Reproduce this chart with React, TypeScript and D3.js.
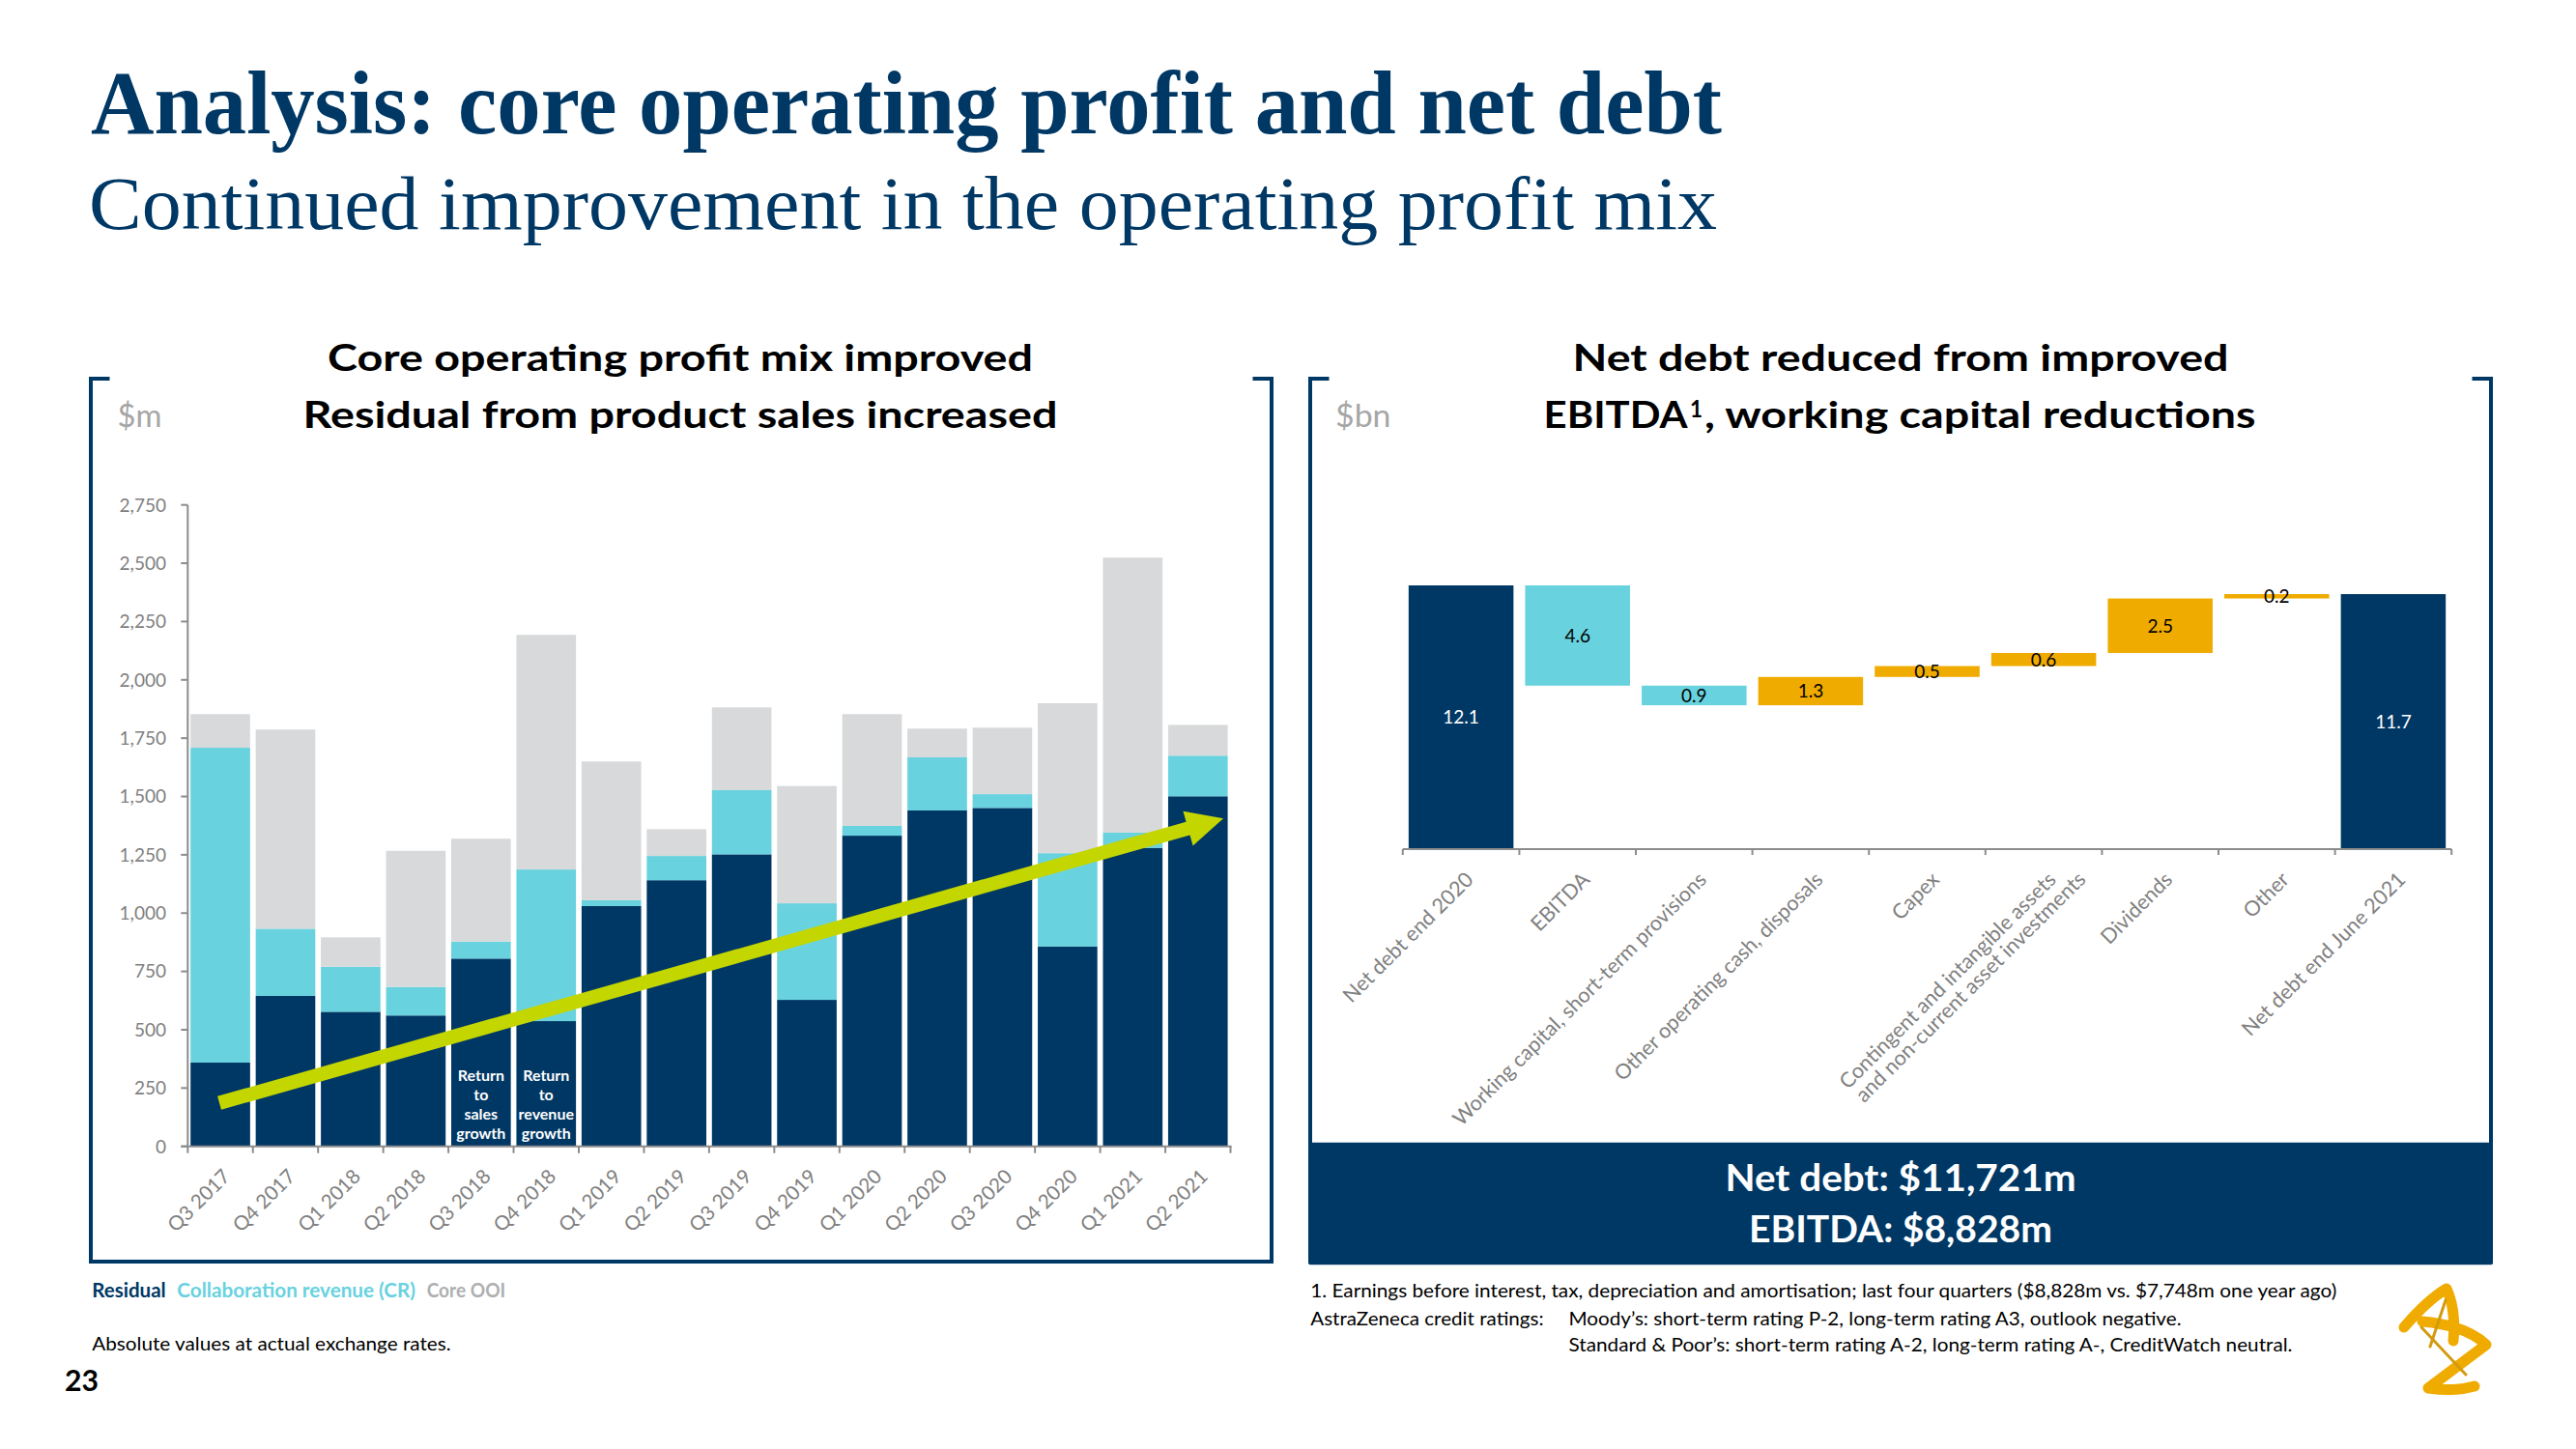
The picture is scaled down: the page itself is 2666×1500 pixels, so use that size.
import React from "react";
import * as d3 from "d3";

// ---------------- data ----------------
const quarters = [
  "Q3 2017", "Q4 2017", "Q1 2018", "Q2 2018", "Q3 2018", "Q4 2018",
  "Q1 2019", "Q2 2019", "Q3 2019", "Q4 2019", "Q1 2020", "Q2 2020",
  "Q3 2020", "Q4 2020", "Q1 2021", "Q2 2021",
];
const residual = [359, 645, 577, 561, 805, 537, 1030, 1141, 1252, 628, 1332, 1440, 1451, 857, 1280, 1501];
const collaborationRevenue = [1350, 288, 193, 122, 73, 650, 25, 104, 275, 414, 42, 228, 59, 400, 65, 174];
const coreOOI = [144, 854, 126, 584, 441, 1006, 595, 115, 355, 503, 479, 123, 285, 643, 1179, 132];
const seriesKeys = ["residual", "collaboration", "coreOOI"];
const seriesLabels = ["Residual", "Collaboration revenue (CR)", "Core OOI"];
const yTicksLeft = [0, 250, 500, 750, 1000, 1250, 1500, 1750, 2000, 2250, 2500, 2750];
const annotationQuarters = ["Q3 2018", "Q4 2018"];
const annotationLines = [
  ["Return", "to", "sales", "growth"],
  ["Return", "to", "revenue", "growth"],
];
const arrowQuarters = ["Q3 2017", "Q2 2021"];
const arrowValues = [186, 1406];

const bridgeSteps = [
  "Net debt end 2020",
  "EBITDA",
  "Working capital, short-term provisions",
  "Other operating cash, disposals",
  "Capex",
  "Contingent and intangible assets\nand non-current asset investments",
  "Dividends",
  "Other",
  "Net debt end June 2021",
];
const bridgeValues = [12.1, -4.6, -0.9, 1.3, 0.5, 0.6, 2.5, 0.2, 11.7];
const bridgeTypes = ["total", "decrease", "decrease", "increase", "increase", "increase", "increase", "increase", "total"];

// ---------------- styles ----------------
const NAVY = "#003865";
const CYAN = "#68d2df";
const GREY_BAR = "#d7d9da";
const GOLD = "#f0ab00";
const LIME = "#c4d600";
const AXIS = "#8c8c8c";
const TICK_TEXT = "#808080";
const SANS = "Lato, 'Open Sans', sans-serif";
const SERIF = "'Liberation Serif', 'DejaVu Serif', serif";
const seriesColors = [NAVY, CYAN, GREY_BAR];
const legendColors = [NAVY, CYAN, "#aeb0b1"];

export default function App() {
  // ---------- left chart ----------
  const L = { x0: 194.3, x1: 1273.5, yBase: 1186.7, yTop: 522.7 };
  const xL = d3.scaleBand<string>().domain(quarters).range([L.x0, L.x1]).paddingInner(0.086).paddingOuter(0.043);
  const yL = d3.scaleLinear().domain([0, 2750]).range([L.yBase, L.yTop]);
  const stackInput = quarters.map((q, i) => ({
    quarter: q,
    residual: residual[i],
    collaboration: collaborationRevenue[i],
    coreOOI: coreOOI[i],
  }));
  const stacked = d3.stack<any>().keys(seriesKeys)(stackInput);
  const bwL = xL.bandwidth();
  const stepL = xL.step();

  // arrow geometry
  const p0: [number, number] = [(xL(arrowQuarters[0]) as number) + bwL / 2 - 1, yL(arrowValues[0])];
  const tip: [number, number] = [(xL(arrowQuarters[1]) as number) + bwL / 2 + 0.39 * stepL, yL(arrowValues[1])];
  const dx = tip[0] - p0[0];
  const dy = tip[1] - p0[1];
  const len = Math.hypot(dx, dy);
  const u = [dx / len, dy / len];
  const n = [-u[1], u[0]];
  const headLen = 38;
  const headHalf = 18.5;
  const shaftHalf = 7.2;
  const base = [tip[0] - u[0] * headLen, tip[1] - u[1] * headLen];
  const pt = (p: number[], k: number) => `${p[0] + n[0] * k},${p[1] + n[1] * k}`;
  const arrowPoints = [
    pt(p0, shaftHalf),
    pt(base, shaftHalf),
    pt(base, headHalf),
    `${tip[0]},${tip[1]}`,
    pt(base, -headHalf),
    pt(base, -shaftHalf),
    pt(p0, -shaftHalf),
  ].join(" ");

  // ---------- right chart ----------
  const R = { x0: 1451.8, x1: 2537.2, yBase: 879, yTop: 606 };
  const xR = d3.scaleBand<string>().domain(bridgeSteps).range([R.x0, R.x1]).paddingInner(0.1).paddingOuter(0.05);
  const yR = d3.scaleLinear().domain([0, 12.1]).range([R.yBase, R.yTop]);
  let running = 0;
  const bridgeBars = bridgeSteps.map((s, i) => {
    let a: number, b: number;
    if (bridgeTypes[i] === "total") {
      a = 0;
      b = bridgeValues[i];
      running = bridgeValues[i];
    } else {
      a = running;
      b = running + bridgeValues[i];
      running = b;
    }
    return {
      step: s,
      lo: Math.min(a, b),
      hi: Math.max(a, b),
      type: bridgeTypes[i],
      label: Math.abs(bridgeValues[i]).toFixed(1),
    };
  });
  const bwR = xR.bandwidth();
  const stepR = xR.step();

  const frameStroke = 4;
  const legendX = [95.2, 183.3, 441.7];
  const legendW = [76.5, 246.7, 81.6];

  return (
    <svg
      width={2666}
      height={1500}
      viewBox="0 0 2666 1500"
      style={{ position: "absolute", left: 0, top: 0, display: "block", background: "#ffffff" }}
    >
      <rect x={0} y={0} width={2666} height={1500} fill="#ffffff" />

      {/* Titles */}
      <text x={94} y={138} fontFamily={SERIF} fontWeight={700} fontSize={93} fill={NAVY}
        textLength={1688} lengthAdjust="spacingAndGlyphs">
        Analysis: core operating profit and net debt
      </text>
      <text x={92} y={236.5} fontFamily={SERIF} fontWeight={400} fontSize={78} fill={NAVY}
        textLength={1685} lengthAdjust="spacingAndGlyphs">
        Continued improvement in the operating profit mix
      </text>

      {/* ---------- Left panel frame ---------- */}
      <path d={`M113.5,392 H94 V1306 H1316 V392 H1296.5`} fill="none" stroke={NAVY} strokeWidth={frameStroke} />
      <text x={704} y={384} textAnchor="middle" fontFamily={SANS} fontWeight={700} fontSize={38} fill="#000"
        textLength={730} lengthAdjust="spacingAndGlyphs">
        Core operating profit mix improved
      </text>
      <text x={704} y={443.3} textAnchor="middle" fontFamily={SANS} fontWeight={700} fontSize={38} fill="#000"
        textLength={781} lengthAdjust="spacingAndGlyphs">
        Residual from product sales increased
      </text>
      <text x={121.5} y={441.7} fontFamily={SANS} fontSize={32} fill="#a6a6a6" textLength={46} lengthAdjust="spacingAndGlyphs">
        $m
      </text>

      {/* stacked bars */}
      <g>
        {stacked.map((layer, si) => (
          <g key={seriesKeys[si]} fill={seriesColors[si]}>
            {layer.map((d: any, i: number) => (
              <rect
                key={i}
                x={xL(d.data.quarter) as number}
                y={yL(d[1])}
                width={bwL}
                height={Math.max(0, yL(d[0]) - yL(d[1]))}
              />
            ))}
          </g>
        ))}
      </g>

      {/* annotations */}
      {annotationQuarters.map((q, ai) => (
        <text key={q} textAnchor="middle" fontFamily={SANS} fontWeight={700} fontSize={16} fill="#ffffff">
          {annotationLines[ai].map((ln, li) => (
            <tspan key={li} x={(xL(q) as number) + bwL / 2}
              y={L.yBase - 7.5 - (annotationLines[ai].length - 1 - li) * 20}>
              {ln}
            </tspan>
          ))}
        </text>
      ))}

      {/* trend arrow */}
      <polygon points={arrowPoints} fill={LIME} />

      {/* left axes */}
      <g stroke={AXIS} strokeWidth={2} fill="none">
        <line x1={L.x0} y1={L.yBase} x2={L.x0} y2={L.yTop} />
        <line x1={L.x0 - 7} y1={L.yBase} x2={L.x1 + 1} y2={L.yBase} />
        {yTicksLeft.map((t) => (
          <line key={t} x1={L.x0 - 7} x2={L.x0} y1={yL(t)} y2={yL(t)} />
        ))}
        {d3.range(quarters.length + 1).map((i) => (
          <line key={i} x1={L.x0 + i * stepL} x2={L.x0 + i * stepL} y1={L.yBase} y2={L.yBase + 7} />
        ))}
      </g>
      {yTicksLeft.map((t) => (
        <text key={t} x={172} y={yL(t)} dy="0.36em" textAnchor="end" fontFamily={SANS} fontSize={19} fill={TICK_TEXT}>
          {d3.format(",")(t)}
        </text>
      ))}
      {quarters.map((q) => (
        <text
          key={q}
          transform={`translate(${(xL(q) as number) + bwL / 2 + 1},${L.yBase + 22}) rotate(-45)`}
          dy="0.72em"
          textAnchor="end"
          fontFamily={SANS}
          fontSize={20.5}
          fill={TICK_TEXT}
        >
          {q}
        </text>
      ))}

      {/* legend + notes left */}
      {seriesLabels.map((s, i) => (
        <text key={s} x={legendX[i]} y={1343.3} fontFamily={SANS} fontWeight={700} fontSize={20} fill={legendColors[i]}
          textLength={legendW[i]} lengthAdjust="spacingAndGlyphs">{s}</text>
      ))}
      <text x={95.2} y={1398.3} fontFamily={SANS} fontSize={20} fill="#000"
        textLength={371.5} lengthAdjust="spacingAndGlyphs">Absolute values at actual exchange rates.</text>
      <text x={66.9} y={1440} fontFamily={SANS} fontWeight={700} fontSize={30} fill="#000"
        textLength={35} lengthAdjust="spacingAndGlyphs">23</text>

      {/* ---------- Right panel ---------- */}
      <path d={`M1375.5,392 H1356 V1184`} fill="none" stroke={NAVY} strokeWidth={frameStroke} />
      <path d={`M2558.5,392 H2578 V1184`} fill="none" stroke={NAVY} strokeWidth={frameStroke} />
      <rect x={1354} y={1182.7} width={1226} height={126.6} fill={NAVY} rx={2} />
      <text x={1967} y={384} textAnchor="middle" fontFamily={SANS} fontWeight={700} fontSize={38} fill="#000"
        textLength={679} lengthAdjust="spacingAndGlyphs">
        Net debt reduced from improved
      </text>
      <text x={1597.6} y={443.3} fontFamily={SANS} fontWeight={700} fontSize={38} fill="#000"
        textLength={149} lengthAdjust="spacingAndGlyphs">EBITDA</text>
      <text x={1749} y={432} fontFamily={SANS} fontWeight={700} fontSize={24} fill="#000"
        textLength={13} lengthAdjust="spacingAndGlyphs">1</text>
      <text x={1764} y={443.3} fontFamily={SANS} fontWeight={700} fontSize={38} fill="#000"
        textLength={570.6} lengthAdjust="spacingAndGlyphs">, working capital reductions</text>
      <text x={1382} y={441.7} fontFamily={SANS} fontSize={32} fill="#a6a6a6" textLength={57.5} lengthAdjust="spacingAndGlyphs">
        $bn
      </text>

      {/* waterfall bars */}
      {bridgeBars.map((b) => (
        <rect
          key={b.step}
          x={xR(b.step) as number}
          y={yR(b.hi)}
          width={bwR}
          height={Math.max(0, yR(b.lo) - yR(b.hi))}
          fill={b.type === "total" ? NAVY : b.type === "decrease" ? CYAN : GOLD}
        />
      ))}
      {bridgeBars.map((b) => (
        <text
          key={b.step}
          x={(xR(b.step) as number) + bwR / 2}
          y={(yR(b.hi) + yR(b.lo)) / 2}
          dy="0.36em"
          textAnchor="middle"
          fontFamily={SANS}
          fontSize={19}
          fill={b.type === "total" ? "#ffffff" : "#000000"}
        >
          {b.label}
        </text>
      ))}
      <g stroke={AXIS} strokeWidth={2} fill="none">
        <line x1={R.x0} x2={R.x1} y1={R.yBase} y2={R.yBase} />
        {d3.range(bridgeSteps.length + 1).map((i) => (
          <line key={i} x1={R.x0 + i * stepR} x2={R.x0 + i * stepR} y1={R.yBase} y2={R.yBase + 6} />
        ))}
      </g>
      {bridgeSteps.map((s) => {
        const lines = s.split("\n");
        return (
          <text
            key={s}
            transform={`translate(${(xR(s) as number) + bwR / 2 + 3},${R.yBase + 22}) rotate(-45)`}
            textAnchor="end"
            fontFamily={SANS}
            fontSize={21.5}
            fill={TICK_TEXT}
          >
            {lines.map((ln, li) => (
              <tspan key={li} x={li * 22} y={0} dy={`${0.72 + li * 1.0}em`}>
                {ln}
              </tspan>
            ))}
          </text>
        );
      })}

      {/* navy summary box text */}
      <text x={1967} y={1233.3} textAnchor="middle" fontFamily={SANS} fontWeight={700} fontSize={39} fill="#ffffff"
        textLength={363} lengthAdjust="spacingAndGlyphs">Net debt: $11,721m</text>
      <text x={1967} y={1286} textAnchor="middle" fontFamily={SANS} fontWeight={700} fontSize={39} fill="#ffffff"
        textLength={314} lengthAdjust="spacingAndGlyphs">EBITDA: $8,828m</text>

      {/* footnotes right */}
      <text x={1356.2} y={1343.3} fontFamily={SANS} fontSize={19} fill="#000" textLength={1062} lengthAdjust="spacingAndGlyphs">
        1. Earnings before interest, tax, depreciation and amortisation; last four quarters ($8,828m vs. $7,748m one year ago)
      </text>
      <text x={1356.2} y={1371.7} fontFamily={SANS} fontSize={19} fill="#000" textLength={241.4} lengthAdjust="spacingAndGlyphs">
        AstraZeneca credit ratings:
      </text>
      <text x={1623.5} y={1371.7} fontFamily={SANS} fontSize={19} fill="#000" textLength={634} lengthAdjust="spacingAndGlyphs">
        Moody’s: short-term rating P-2, long-term rating A3, outlook negative.
      </text>
      <text x={1623.5} y={1399.3} fontFamily={SANS} fontSize={19} fill="#000" textLength={749} lengthAdjust="spacingAndGlyphs">
        Standard &amp; Poor’s: short-term rating A-2, long-term rating A-, CreditWatch neutral.
      </text>

      {/* logo (approximation) */}
      <g fill="none" strokeLinecap="round" strokeLinejoin="round">
        <path d="M2488,1374 Q2512,1346 2532,1334 Q2542,1356 2539,1388" stroke={GOLD} strokeWidth={11} />
        <path d="M2507,1368 Q2552,1372 2573,1392 Q2545,1413 2513,1437 Q2540,1441 2561,1435" stroke={GOLD} strokeWidth={11} />
        <path d="M2506,1374 L2552,1423" stroke="#d39a10" strokeWidth={3} />
        <path d="M2531,1346 L2515,1394" stroke="#d39a10" strokeWidth={3} />
      </g>
    </svg>
  );
}
